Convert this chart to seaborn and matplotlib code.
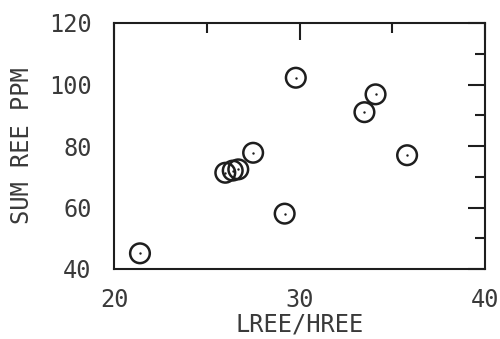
import matplotlib
matplotlib.use('Agg')
import matplotlib.pyplot as plt
from matplotlib.ticker import MultipleLocator
import pandas as pd
import seaborn as sns

sns.set_style(style='white')
plt.rcParams['font.family'] = ['DejaVu Sans Mono', 'DejaVu Sans']

# values
lree_hree = [21.4, 26.0, 26.4, 26.7, 27.5, 29.2, 29.8, 33.5, 34.1, 35.8]
sum_ree = [45.1, 71.3, 72.0, 72.4, 77.8, 58.0, 102.2, 91.0, 96.8, 77.0]

df = pd.DataFrame({'LREE/HREE': lree_hree, 'SUM REE PPM': sum_ree})

fig = plt.figure(figsize=(5.0, 3.39), dpi=100)
ax = fig.add_axes([114 / 500, 1 - 269 / 339, 371 / 500, 246 / 339])

ink = '#1e1e1e'
sns.scatterplot(data=df, x='LREE/HREE', y='SUM REE PPM', ax=ax, marker='o', s=200,
                facecolor='none', edgecolor=ink, linewidth=1.8, legend=False)
sns.scatterplot(data=df, x='LREE/HREE', y='SUM REE PPM', ax=ax, marker='.', s=12,
                color=ink, linewidth=0, legend=False)

ax.set_xlim(20, 40)
ax.set_ylim(40, 120)
ax.xaxis.set_major_locator(MultipleLocator(10))
ax.xaxis.set_minor_locator(MultipleLocator(5))
ax.yaxis.set_major_locator(MultipleLocator(20))
ax.yaxis.set_minor_locator(MultipleLocator(10))
ax.tick_params(which='both', direction='in', top=True, right=True, color=ink, width=1.5)
ax.tick_params(which='major', length=12, labelsize=17, labelcolor='#3a3a3a')
ax.tick_params(axis='x', which='major', pad=14)
ax.tick_params(axis='y', which='major', pad=16)
ax.tick_params(which='minor', length=7)
for sp in ax.spines.values():
    sp.set_linewidth(1.5)
    sp.set_color(ink)

ax.set_xlabel('LREE/HREE', fontsize=17, color='#3a3a3a', labelpad=0)
ax.set_ylabel('SUM REE PPM', fontsize=17, color='#3a3a3a', labelpad=11)

fig.savefig('out.png', dpi=100)
plt.close(fig)
